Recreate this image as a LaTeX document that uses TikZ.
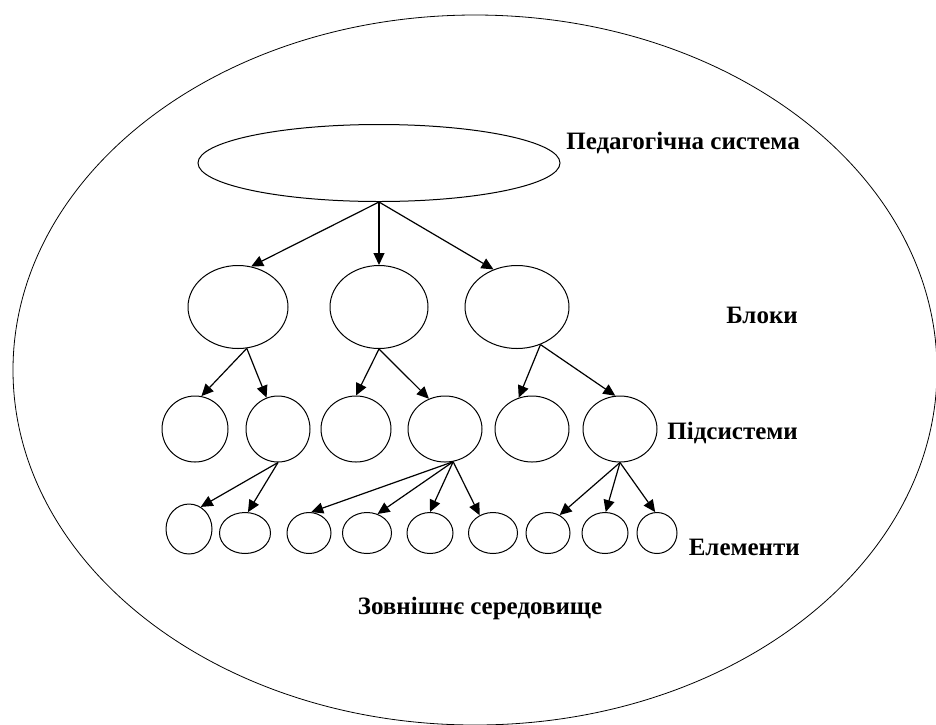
\documentclass[tikz,border=0pt]{standalone}
\usepackage{fontspec}
\setmainfont{Liberation Serif}
\usepackage{tikz}
\usetikzlibrary{shapes.geometric, arrows.meta}

\tikzset{
    oval/.style={draw, ellipse, line width=1pt, inner sep=0pt},
    link/.style={line width=1.2pt, -{Triangle[length=12pt, width=11pt]}},
    lbl/.style={font=\fontsize{25}{28}\selectfont\bfseries, inner sep=0pt}
}

\begin{document}
\begin{tikzpicture}[x=1pt, y=-1pt]
                \useasboundingbox (0,0) rectangle (936,724);

                %Environment
                \node[oval, line width=0.8pt, minimum width=924pt, minimum height=710pt] (env) at (475,370) {};

                %System
                \node[oval, minimum width=362pt, minimum height=77pt] (sys) at (379,163) {};

                %Blocks
                \foreach \n/\x/\w in {b1/238/100, b2/379/98, b3/517/104}
                \node[oval, minimum width=\w pt, minimum height=83pt] (\n) at (\x,307) {};

                %Subsystems
                \foreach \n/\x/\w in {s1/195/66, s2/278/64, s3/356/70, s4/445/74, s5/532/74, s6/620/74}
                \node[oval, minimum width=\w pt, minimum height=66pt] (\n) at (\x,429) {};

                %Elements
                \node[oval, minimum width=46pt, minimum height=50pt] (e1) at (189,529) {};
                \foreach \n/\x/\w in {e2/245/51, e3/309/44, e4/367/49, e5/430/46, e6/493/49, e7/548/44, e8/605/46, e9/657/40}
                \node[oval, minimum width=\w pt, minimum height=41pt] (\n) at (\x,533) {};

                %Links
                \draw[link] (sys.south) -- (b1.72);
                \draw[link] (sys.south) -- (b2.north);
                \draw[link] (sys.south) -- (b3.122);

                \draw[link] (b1.-78) -- (s1.79);
                \draw[link] (b1.-78) -- (s2.110);
                \draw[link] (b2.south) -- (s3.north);
                \draw[link] (b2.south) -- (s4.118);
                \draw[link] (b3.-58) -- (s5.113);
                \draw[link] (b3.-58) -- (s6.98);

                \draw[link] (s2.south) -- (e1.62);
                \draw[link] (s2.south) -- (e2.82);
                \foreach \t/\a in {e3/84, e4/61, e5/90, e6/127}
                \draw[link] (s4.-76) -- (\t.\a);
                \foreach \t/\a in {e7/57, e8/88, e9/95}
                \draw[link] (s6.south) -- (\t.\a);

                %Level labels
                \node[lbl, anchor=base east] (lsys) at (800,149) {Педагогічна система};
                \node[lbl, anchor=base east] (lblk) at (798,323) {Блоки};
                \node[lbl, anchor=base east] (lsub) at (798,439) {Підсистеми};
                \node[lbl, anchor=base east] (lel) at (800,555) {Елементи};
                \node[lbl, anchor=base] (lenv) at (480,614) {Зовнішнє середовище};

            \end{tikzpicture}
\end{document}
